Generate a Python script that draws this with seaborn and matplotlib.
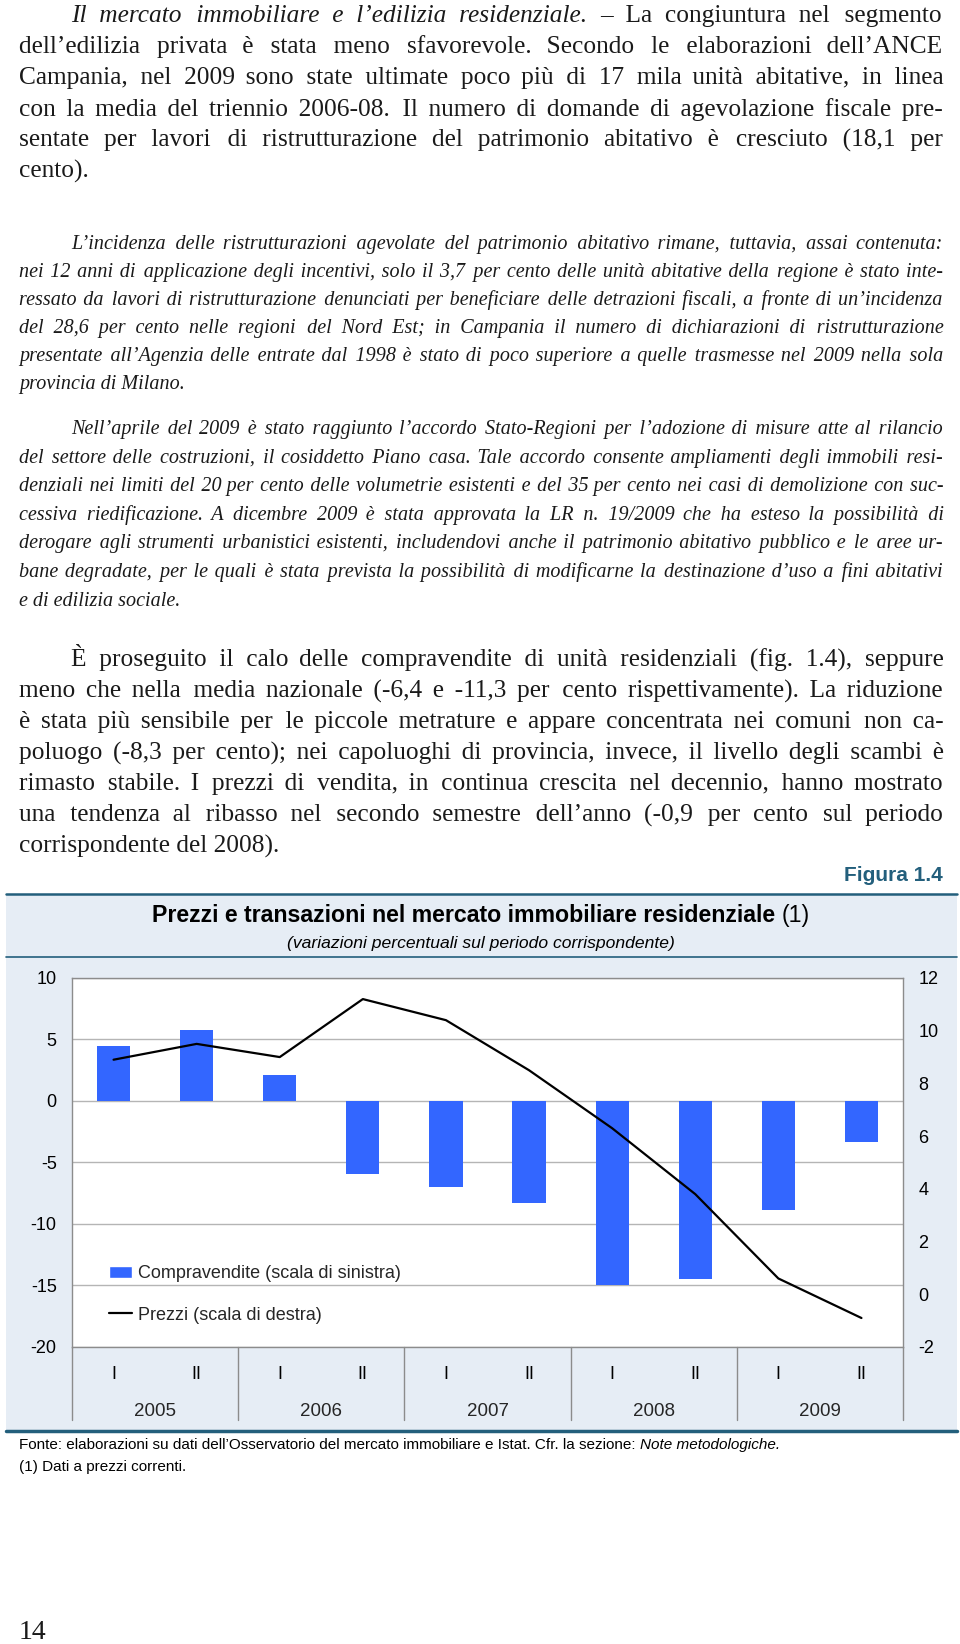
import numpy as np
import pandas as pd
import matplotlib
matplotlib.use('Agg')
import matplotlib.pyplot as plt
import seaborn as sns
from matplotlib.patches import Patch, Rectangle
from matplotlib.lines import Line2D
from matplotlib.transforms import blended_transform_factory

# Data (Figura 1.4)
anni = ['2005', '2006', '2007', '2008', '2009']
semestri = ['I', 'II', 'I', 'II', 'I', 'II', 'I', 'II', 'I', 'II']
periodi = ['2005-I', '2005-II', '2006-I', '2006-II', '2007-I', '2007-II',
           '2008-I', '2008-II', '2009-I', '2009-II']
compravendite = [4.5, 5.8, 2.1, -5.9, -7.0, -8.3, -15.0, -14.5, -8.9, -3.3]
prezzi = [8.9, 9.5, 9.0, 11.2, 10.4, 8.5, 6.3, 3.8, 0.6, -0.9]
ticks_sx = [10, 5, 0, -5, -10, -15, -20]
ticks_dx = [12, 10, 8, 6, 4, 2, 0, -2]

# Page text
par1 = ["*Il mercato immobiliare e l’edilizia residenziale.* – La congiuntura nel segmento",
        "dell’edilizia privata è stata meno sfavorevole. Secondo le elaborazioni dell’ANCE",
        "Campania, nel 2009 sono state ultimate poco più di 17 mila unità abitative, in linea",
        "con la media del triennio 2006-08. Il numero di domande di agevolazione fiscale pre-",
        "sentate per lavori di ristrutturazione del patrimonio abitativo è cresciuto (18,1 per",
        "cento)."]
par2 = ["L’incidenza delle ristrutturazioni agevolate del patrimonio abitativo rimane, tuttavia, assai contenuta:",
        "nei 12 anni di applicazione degli incentivi, solo il 3,7 per cento delle unità abitative della regione è stato inte-",
        "ressato da lavori di ristrutturazione denunciati per beneficiare delle detrazioni fiscali, a fronte di un’incidenza",
        "del 28,6 per cento nelle regioni del Nord Est; in Campania il numero di dichiarazioni di ristrutturazione",
        "presentate all’Agenzia delle entrate dal 1998 è stato di poco superiore a quelle trasmesse nel 2009 nella sola",
        "provincia di Milano."]
par3 = ["Nell’aprile del 2009 è stato raggiunto l’accordo Stato-Regioni per l’adozione di misure atte al rilancio",
        "del settore delle costruzioni, il cosiddetto Piano casa. Tale accordo consente ampliamenti degli immobili resi-",
        "denziali nei limiti del 20 per cento delle volumetrie esistenti e del 35 per cento nei casi di demolizione con suc-",
        "cessiva riedificazione. A dicembre 2009 è stata approvata la LR n. 19/2009 che ha esteso la possibilità di",
        "derogare agli strumenti urbanistici esistenti, includendovi anche il patrimonio abitativo pubblico e le aree ur-",
        "bane degradate, per le quali è stata prevista la possibilità di modificarne la destinazione d’uso a fini abitativi",
        "e di edilizia sociale."]
par4 = ["È proseguito il calo delle compravendite di unità residenziali (fig. 1.4), seppure",
        "meno che nella media nazionale (-6,4 e -11,3 per cento rispettivamente). La riduzione",
        "è stata più sensibile per le piccole metrature e appare concentrata nei comuni non ca-",
        "poluogo (-8,3 per cento); nei capoluoghi di provincia, invece, il livello degli scambi è",
        "rimasto stabile. I prezzi di vendita, in continua crescita nel decennio, hanno mostrato",
        "una tendenza al ribasso nel secondo semestre dell’anno (-0,9 per cento sul periodo",
        "corrispondente del 2008)."]

BLUE = '#3366ff'
TEAL = '#235f7c'
BG = '#e6edf5'
GREY = '#8c8c8c'
SERIF = ['Liberation Serif', 'DejaVu Serif']
SANS = ['Liberation Sans', 'DejaVu Sans']
HAIR = '\u200a'

sns.set_style('white')
plt.rcParams['font.family'] = SANS
plt.rcParams['axes.unicode_minus'] = False

fig = plt.figure(figsize=(9.6, 16.44), dpi=100)
page = fig.add_axes([0, 0, 1, 1])
page.set_xlim(0, 960)
page.set_ylim(1644, 0)
page.axis('off')
r = fig.canvas.get_renderer()


def parse(line):
    # '*' toggles italic, '#' toggles bold
    out = []
    it, bd = False, False
    for w in line.split(' '):
        if w.startswith('*'):
            it = not it
            w = w[1:]
        if w.startswith('#'):
            bd = not bd
            w = w[1:]
        st = ('italic' if it else 'normal', 'bold' if bd else 'normal')
        if w.endswith('*'):
            it = not it
            w = w[:-1]
        if w.endswith('#'):
            bd = not bd
            w = w[:-1]
        out.append((w, st))
    return out


def width_of(s, size, family, st):
    t = page.text(0, 0, s, fontsize=size, family=family, style=st[0], weight=st[1])
    w = t.get_window_extent(r).width
    t.remove()
    return w


def draw_line(x, y, line, size, family, width=None, align='left', color='#1a1a1a'):
    # one text per style run; justification by padding spaces with hair spaces
    runs = []
    for w, st in parse(line):
        if runs and runs[-1][0] == st:
            runs[-1][1].append(w)
        else:
            runs.append([st, [w]])
    n_gaps = sum(len(ws) for _, ws in runs) - 1
    sp, hw = {}, {}
    for st, _ in runs:
        if st not in sp:
            base = width_of('aa', size, family, st)
            sp[st] = width_of('a a', size, family, st) - base
            hw[st] = (width_of('a' + HAIR * 20 + 'a', size, family, st) - base) / 20
    natural = sum(width_of(' '.join(ws), size, family, st) for st, ws in runs)
    natural += sum(sp[st] for st, _ in runs[:-1])
    extra = 0.0
    if width is not None and n_gaps > 0:
        extra = max(0.0, (width - natural) / n_gaps)
    cum, placed = 0.0, 0
    strings = []
    for st, ws in runs:
        s = ws[0]
        for w in ws[1:]:
            cum += extra / hw[st]
            k = int(round(cum)) - placed
            placed += k
            s += ' ' + HAIR * k + w
        strings.append(s)
        cum += extra / hw[st]
        placed = int(round(cum))
    widths = [width_of(s, size, family, st) for s, (st, _) in zip(strings, runs)]
    gaps = [sp[st] + extra for st, _ in runs[:-1]]
    total = sum(widths) + sum(gaps)
    if align == 'center':
        x -= total / 2
    elif align == 'right':
        x -= total
    for i, (s, (st, _)) in enumerate(zip(strings, runs)):
        page.text(x, y, s, fontsize=size, family=family, style=st[0], weight=st[1],
                  va='baseline', ha='left', color=color)
        if i < len(gaps):
            x += widths[i] + gaps[i]


def paragraph(lines, y0, step, size, italic=False):
    for i, line in enumerate(lines):
        x0 = 71 if i == 0 else 19
        last = i == len(lines) - 1
        s = '*' + line + '*' if italic else line
        draw_line(x0, y0 + i * step, s, size, SERIF, width=None if last else 943 - x0)


paragraph(par1, 22, 31.2, 18.3)
paragraph(par2, 249, 27.9, 14.5, italic=True)
paragraph(par3, 434, 28.6, 14.5, italic=True)
paragraph(par4, 666, 31.1, 18.3)

# Chart frame
draw_line(943, 881, '#Figura 1.4#', 15, SANS, align='right', color=TEAL)
page.add_patch(Rectangle((6, 894), 951, 537, facecolor=BG, edgecolor='none', zorder=0))
page.plot([6, 957], [894, 894], color=TEAL, lw=1.8)
page.plot([6, 957], [957, 957], color=TEAL, lw=1.2)
page.plot([6, 957], [1431, 1431], color=TEAL, lw=2.5)
draw_line(481, 922, '#Prezzi e transazioni nel mercato immobiliare residenziale# (1)', 16.7, SANS,
          align='center', color='black')
page.text(481, 948, '(variazioni percentuali sul periodo corrispondente)', ha='center',
          va='baseline', style='italic', fontsize=12.6, color='black')

draw_line(19, 1449, 'Fonte: elaborazioni su dati dell’Osservatorio del mercato immobiliare e Istat. '
          'Cfr. la sezione: *Note metodologiche.*', 11, SANS, color='black')
draw_line(19, 1471, '(1) Dati a prezzi correnti.', 11, SANS, color='black')
page.text(19, 1639, '14', family=SERIF, fontsize=20, va='baseline', color='#1a1a1a')

# Chart
df = pd.DataFrame({'periodo': periodi, 'compravendite': compravendite, 'prezzi': prezzi})
ax = fig.add_axes([0.075, 0.18066, 0.86563, 0.22445])
ax.set_facecolor('white')
sns.barplot(data=df, x='periodo', y='compravendite', ax=ax, color=BLUE,
            saturation=1, width=0.4, linewidth=0)
ax2 = ax.twinx()
sns.lineplot(x=np.arange(len(df)), y=df['prezzi'], ax=ax2, color='black', lw=1.6)

ax.set_xlim(-0.5, len(df) - 0.5)
ax.set_ylim(-20, 10)
ax.set_yticks(ticks_sx)
ax.set_yticklabels([str(v) for v in ticks_sx])
ax2.set_ylim(-2, 12)
ax2.set_yticks(ticks_dx)
ax2.set_yticklabels([str(v) for v in ticks_dx])
ax.set_xticks(range(len(df)))
ax.set_xticklabels(semestri)
ax.set_xlabel('')
ax.set_ylabel('')
ax2.set_ylabel('')

ax.grid(axis='y', color='#b5b5b5', lw=1)
ax.grid(axis='x', visible=False)
ax.set_axisbelow(True)
for s in ax.spines.values():
    s.set_color(GREY)
    s.set_linewidth(1)
for s in ax2.spines.values():
    s.set_visible(False)
ax.tick_params(axis='y', length=0, pad=11, labelsize=13, labelcolor='black')
ax.tick_params(axis='x', length=0, pad=14, labelsize=13, labelcolor='black')
ax2.tick_params(axis='y', length=0, pad=11, labelsize=13, labelcolor='black')

trans = blended_transform_factory(ax.transData, ax.transAxes)
for k, anno in enumerate(anni):
    ax.text(2 * k + 0.5, -0.174, anno, transform=trans, ha='center', va='center', fontsize=13.5)
for k in range(len(anni) + 1):
    ax.axvline(2 * k - 0.5, ymin=-0.198, ymax=0, color=GREY, lw=1, clip_on=False)

handles = [Patch(facecolor=BLUE, label='Compravendite (scala di sinistra)'),
           Line2D([], [], color='black', lw=1.6, label='Prezzi (scala di destra)')]
ax.legend(handles=handles, loc='center left', bbox_to_anchor=(0.0445, 0.142), frameon=False,
          fontsize=13, handlelength=1.3, handletextpad=0.3, labelspacing=1.35,
          borderpad=0, borderaxespad=0)

fig.savefig('out.png', dpi=100)
